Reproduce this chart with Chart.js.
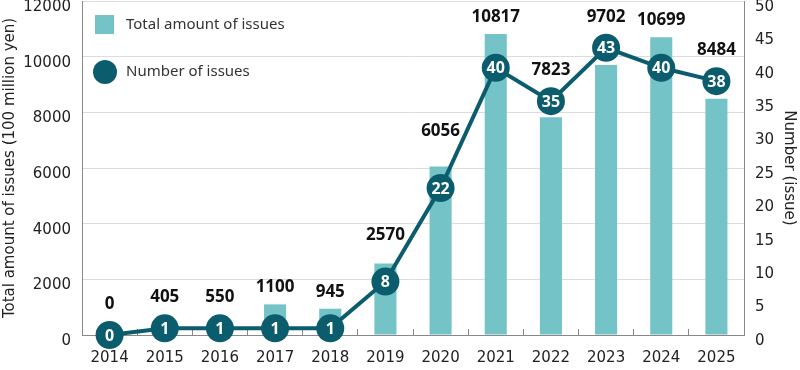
<!DOCTYPE html>
<html>
<head>
<meta charset="utf-8">
<script src="https://cdn.jsdelivr.net/npm/chart.js@4"></script>
<style>
    html, body { margin: 0; padding: 0; background: #fff; }
    #wrap { position: relative; width: 800px; height: 370px; }
</style>
</head>
<body>
<div id="wrap"><canvas id="myChart" width="800" height="370"></canvas></div>
<script>
const years = ['2014', '2015', '2016', '2017', '2018', '2019', '2020', '2021', '2022', '2023', '2024', '2025'];
const totalAmounts = [0, 405, 550, 1100, 945, 2570, 6056, 10817, 7823, 9702, 10699, 8484];
const issueCounts = [0, 1, 1, 1, 1, 8, 22, 40, 35, 43, 40, 38];

const amountTicks = [0, 2000, 4000, 6000, 8000, 10000, 12000];
const countTicks = [0, 5, 10, 15, 20, 25, 30, 35, 40, 45, 50];

const barColor = '#74c3c6';
const lineColor = '#0b5d6e';
const textColor = '#222';
const axisFont = '"DejaVu Sans", Verdana, sans-serif';

// legend sits inside the plot, top-left
const legendInside = {
    id: 'legendInside',
    afterDraw(chart)
    {
        const ctx = chart.ctx;
        const x0 = chart.chartArea.left + 13;
        ctx.save();
        ctx.fillStyle = barColor;
        ctx.fillRect(x0, 15, 19, 19);
        ctx.fillStyle = lineColor;
        ctx.beginPath();
        ctx.arc(x0 + 10, 72, 12, 0, Math.PI * 2);
        ctx.fill();
        ctx.fillStyle = '#333';
        ctx.font = '15px "Noto Sans"';
        ctx.textBaseline = 'middle';
        ctx.textAlign = 'left';
        ctx.fillText('Total amount of issues', x0 + 31, 25);
        ctx.fillText('Number of issues', x0 + 31, 72);
        ctx.restore();
    }
};

// numbers above the bars, lifted until they clear the circles and the line
const valueLabels = {
    id: 'valueLabels',
    afterDatasetsDraw(chart)
    {
        const ctx = chart.ctx;
        const barMeta = chart.getDatasetMeta(0);
        const lineMeta = chart.getDatasetMeta(1);
        const pts = lineMeta.data.map(p => ({x: p.x, y: p.y}));
        const r = 14;

        ctx.save();
        ctx.font = 'bold 17px "Noto Sans"';
        ctx.textAlign = 'center';
        ctx.textBaseline = 'middle';
        ctx.fillStyle = '#111';

        barMeta.data.forEach((bar, i) => {
            const txt = String(totalAmounts[i]);
            const w = ctx.measureText(txt).width;
            const h = 16;
            let top = Math.min(bar.y, pts[i].y - r);
            let cy = top - 17;

            const hits = (cy) => {
                const x1 = bar.x - w / 2 - 2, x2 = bar.x + w / 2 + 2;
                const y1 = cy - h / 2, y2 = cy + h / 2 + 2;
                for (let j = Math.max(0, i - 1); j < Math.min(pts.length - 1, i + 1); j++)
                {
                    const a = pts[j], b = pts[j + 1];
                    for (let t = 0; t <= 1; t += 0.01)
                    {
                        const px = a.x + (b.x - a.x) * t;
                        const py = a.y + (b.y - a.y) * t;
                        if (px >= x1 && px <= x2 && py >= y1 && py <= y2)
                            return true;
                    }
                }
                return false;
            };
            let guard = 0;
            while (hits(cy) && guard < 80) { cy -= 1; guard++; }
            ctx.fillText(txt, bar.x, cy);
        });

        // counts inside the circles
        ctx.font = 'bold 16px "Noto Sans"';
        ctx.fillStyle = '#fff';
        lineMeta.data.forEach((p, i) => {
            ctx.fillText(String(issueCounts[i]), p.x, p.y + 1);
        });
        ctx.restore();
    }
};

const plainNumber = (v) => String(v);

const config = {
    data: {
        labels: years,
        datasets: [
            {
                type: 'bar',
                label: 'Total amount of issues',
                data: totalAmounts,
                yAxisID: 'yAmount',
                backgroundColor: barColor,
                barPercentage: 0.4,
                categoryPercentage: 1.0,
                order: 1
            },
            {
                type: 'line',
                label: 'Number of issues',
                data: issueCounts,
                yAxisID: 'yCount',
                borderColor: lineColor,
                borderWidth: 4,
                pointRadius: 14,
                pointBackgroundColor: lineColor,
                pointBorderWidth: 0,
                tension: 0,
                clip: false,
                order: 0
            }
        ]
    },
    options: {
        responsive: false,
        animation: false,
        events: [],
        layout: { padding: { top: 1, left: 0, right: 0, bottom: 0 }, autoPadding: false },
        plugins: {
            legend: { display: false },
            tooltip: { enabled: false }
        },
        scales: {
            x: {
                grid: {
                    display: true,
                    drawOnChartArea: false,
                    drawTicks: true,
                    tickLength: -6,
                    color: '#888',
                    offset: true
                },
                border: { display: true, color: '#888', width: 1 },
                ticks: {
                    color: textColor,
                    font: { family: axisFont, size: 15 },
                    padding: 20,
                    maxRotation: 0
                },
                afterFit(scale) { scale.height = 35; }
            },
            yAmount: {
                position: 'left',
                min: 0,
                max: 12000,
                afterBuildTicks(scale) { scale.ticks = amountTicks.map(v => ({value: v})); },
                grid: { color: '#dcdcdc', drawTicks: false },
                border: { display: true, color: '#888', width: 1 },
                ticks: {
                    color: textColor,
                    font: { family: axisFont, size: 15 },
                    padding: 11,
                    labelOffset: 6,
                    callback: plainNumber
                },
                title: {
                    display: true,
                    text: 'Total amount of issues (100 million yen)',
                    color: textColor,
                    font: { family: axisFont, size: 15 },
                    padding: { top: 1, bottom: 0 }
                },
                afterFit(scale) { scale.width = 82; scale.paddingTop = 0; scale.paddingBottom = 0; }
            },
            yCount: {
                position: 'right',
                min: 0,
                max: 50,
                afterBuildTicks(scale) { scale.ticks = countTicks.map(v => ({value: v})); },
                grid: { drawOnChartArea: false, drawTicks: false },
                border: { display: true, color: '#888', width: 1 },
                ticks: {
                    color: textColor,
                    font: { family: axisFont, size: 15 },
                    padding: 11,
                    labelOffset: 6,
                    callback: plainNumber
                },
                title: {
                    display: true,
                    text: 'Number (issue)',
                    color: textColor,
                    font: { family: axisFont, size: 15 },
                    padding: { top: 2, bottom: 0 }
                },
                afterFit(scale) { scale.width = 56; scale.paddingTop = 0; scale.paddingBottom = 0; }
            }
        }
    },
    plugins: [legendInside, valueLabels]
};

const chartCtx = document.getElementById('myChart');
const chart = new Chart(chartCtx, config);
</script>
</body>
</html>
